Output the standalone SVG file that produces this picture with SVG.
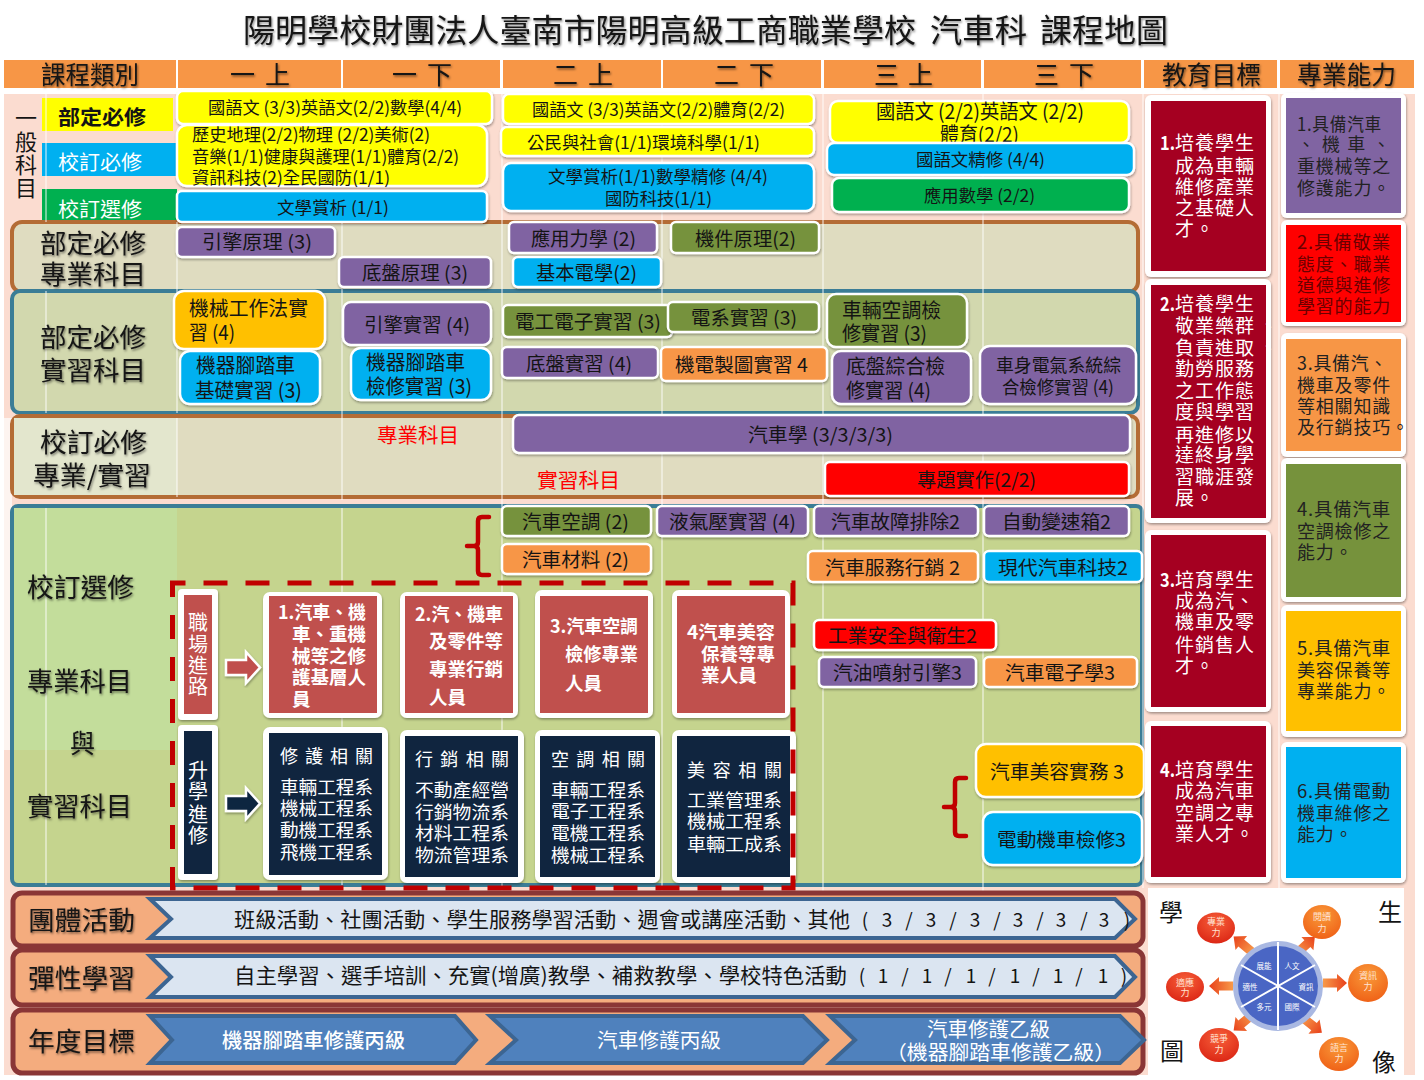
<svg xmlns="http://www.w3.org/2000/svg" width="1424" height="1080" viewBox="0 0 1424 1080">
<style>
svg{font-family:"Noto Sans CJK TC","Liberation Sans",sans-serif}
text{dominant-baseline:central;fill:#141414;transform:translateY(-2px)}
.m{text-anchor:middle}
.b{stroke:#fff;stroke-width:2.5;filter:url(#ds)}
.f{fill:#fff;filter:url(#ds)}
.sh{filter:url(#ts)}
.p{fill:#8064a2}.y{fill:#ff0}.u{fill:#00b0f0}.g{fill:#00b050}.o{fill:#76923c}.a{fill:#f79646}.k{fill:#ffc000}.r{fill:#f00}
.s20{font-size:20px}.s18{font-size:18px}.s19{font-size:19px}.s17{font-size:17px}.s26{font-size:26px}.s25{font-size:25px}
.w{fill:#fff}.wb{fill:#fff;font-weight:700;font-size:18.5px}
.ob{fill:#a50021}.oq{fill:#fff;font-size:19px;letter-spacing:1px}
.on{fill:#fff;font-size:19px;font-weight:700}
.sk{font-size:18px;fill:#222;letter-spacing:.8px}
.dr{fill:#6a0000}
.pb{fill:#f4ac7e;stroke:#8a3636;stroke-width:5}
.ch{fill:#dbe5f1;stroke:#3c6592;stroke-width:4;stroke-linejoin:miter}
.cd{fill:#4f81bd;stroke:#3c6592;stroke-width:4;stroke-linejoin:miter}
.br{fill:none;stroke:#c00000;stroke-width:4.5;stroke-linecap:round;stroke-linejoin:round}
.cl{fill:#ffe3d4;font-size:9px;transform:none}
.wl{fill:#fff;font-size:7.5px;transform:none}
.vl{stroke:#fff;stroke-opacity:.45;stroke-width:2}
.rd{fill:#f00;font-size:20.5px}
.ln{font-size:21px}
</style>
<defs>
<filter id="ds" x="-10%" y="-15%" width="120%" height="130%"><feDropShadow dx="0.6" dy="1.6" stdDeviation="1.3" flood-color="#000" flood-opacity=".35"/></filter>
<filter id="ts" x="-5%" y="-20%" width="110%" height="140%"><feDropShadow dx="1" dy="1.5" stdDeviation="1.1" flood-color="#000" flood-opacity=".5"/></filter>
<radialGradient id="cr" cx=".5" cy=".3" r=".8"><stop offset="0" stop-color="#f7603a"/><stop offset="1" stop-color="#d81f10"/></radialGradient>
<radialGradient id="co" cx=".5" cy=".3" r=".8"><stop offset="0" stop-color="#f99a3a"/><stop offset="1" stop-color="#ee5a12"/></radialGradient>
<linearGradient id="ar" x1="0" x2="1" y1="0" y2="0"><stop offset="0" stop-color="#f79a4a"/><stop offset="1" stop-color="#e8401a"/></linearGradient>
<path id="sa" d="M0-4.500H14V-9L24 0 14 9V4.500H0Z" fill="url(#ar)"/>
</defs>
<rect width="1424" height="1080" fill="#fff"/>
<rect x="4" y="94" width="1411" height="981" fill="#fbdcd0"/>
<rect x="4" y="418" width="8" height="332" fill="#fdf4f0"/>

<g id="title" class="sh" font-size="32"><text x="243" y="30" textLength="673" lengthAdjust="spacingAndGlyphs">陽明學校財團法人臺南市陽明高級工商職業學校</text><text x="930" y="30" textLength="97" lengthAdjust="spacingAndGlyphs">汽車科</text><text x="1040" y="30" textLength="128" lengthAdjust="spacingAndGlyphs">課程地圖</text></g>

<g id="header">
<rect class="a" x="4" y="60" width="172" height="28"/><rect class="a" x="178" y="60" width="163" height="28"/><rect class="a" x="343" y="60" width="157" height="28"/><rect class="a" x="503" y="60" width="158" height="28"/><rect class="a" x="663" y="60" width="158" height="28"/><rect class="a" x="824" y="60" width="157" height="28"/><rect class="a" x="984" y="60" width="157" height="28"/><rect class="a" x="1144" y="60" width="133" height="28"/><rect class="a" x="1280" y="60" width="134" height="28"/>
<g class="s25 sh"><text x="41" y="75" textLength="98" lengthAdjust="spacingAndGlyphs">課程類別</text><text x="230" y="75">一</text><text x="265" y="75">上</text><text x="392" y="75">一</text><text x="427" y="75">下</text><text x="553" y="75">二</text><text x="588" y="75">上</text><text x="714" y="75">二</text><text x="749" y="75">下</text><text x="874" y="75">三</text><text x="908" y="75">上</text><text x="1034" y="75">三</text><text x="1069" y="75">下</text><text x="1162" y="75" textLength="99" lengthAdjust="spacingAndGlyphs">教育目標</text><text x="1297" y="75" textLength="99" lengthAdjust="spacingAndGlyphs">專業能力</text></g>
</g>

<g id="general-legend">
<g font-size="22"><text class="m" x="26" y="118">一</text><text class="m" x="26" y="142">般</text><text class="m" x="26" y="165">科</text><text class="m" x="26" y="188">目</text></g>
<rect class="y" x="42" y="98" width="131" height="33"/><text x="58" y="118" class="s20" font-weight="700" textLength="88" lengthAdjust="spacingAndGlyphs">部定必修</text>
<rect class="u" x="42" y="143" width="135" height="33"/><text x="58" y="163" class="s20 w" textLength="84" lengthAdjust="spacingAndGlyphs">校訂必修</text>
<rect class="g" x="42" y="189" width="135" height="34"/><text x="58" y="210" class="s20 w" textLength="84" lengthAdjust="spacingAndGlyphs">校訂選修</text>
</g>

<g id="panels">
<rect x="12" y="222" width="1126" height="70" rx="10" fill="#dfdcc0" stroke="#b46c35" stroke-width="4"/>
<rect x="12" y="291" width="1126" height="122" rx="8" fill="#d2d8ae" stroke="#3b7d96" stroke-width="4"/>
<rect x="12" y="416" width="1126" height="81" rx="8" fill="#e0dcc0" stroke="#b46c35" stroke-width="4"/>
<rect x="14" y="418" width="163" height="77" fill="#e3e6cd"/>
<rect x="12" y="506" width="1130" height="379" rx="6" fill="#c5d48e" stroke="#3b7d96" stroke-width="4"/>
<rect x="14" y="508" width="163" height="242" fill="#c3dd9b"/>
<g class="vl"><path d="M46 94V222M46 291V413M46 508V885M177 222V291M177 291V413M177 418V497M342 222V500M342 508V885M502 94V900M662 94V900M823 94V900M983 94V900M1143 94V888M1279 94V888"/></g>
</g>

<g id="year-1">
<rect class="y b" x="177" y="91" width="315" height="33" rx="6"/><text class="s17" x="208" y="108" textLength="254" lengthAdjust="spacingAndGlyphs">國語文 (3/3)英語文(2/2)數學(4/4)</text>
<rect class="y b" x="177" y="125" width="310" height="61" rx="10"/>
<g class="s17"><text x="192" y="135" textLength="238" lengthAdjust="spacingAndGlyphs">歷史地理(2/2)物理 (2/2)美術(2)</text><text x="192" y="157" textLength="267" lengthAdjust="spacingAndGlyphs">音樂(1/1)健康與護理(1/1)體育(2/2)</text><text x="192" y="178" textLength="198" lengthAdjust="spacingAndGlyphs">資訊科技(2)全民國防(1/1)</text></g>
<rect class="u b" x="177" y="191" width="310" height="31" rx="5"/><text class="s17" x="277" y="208" textLength="112" lengthAdjust="spacingAndGlyphs">文學賞析 (1/1)</text>
</g>
<g id="year-2">
<rect class="y b" x="503" y="94" width="311" height="30" rx="6"/><text class="s17" x="532" y="110" textLength="253" lengthAdjust="spacingAndGlyphs">國語文 (3/3)英語文(2/2)體育(2/2)</text>
<rect class="y b" x="501" y="127" width="313" height="29" rx="6"/><text class="s17" x="527" y="143" textLength="233" lengthAdjust="spacingAndGlyphs">公民與社會(1/1)環境科學(1/1)</text>
<rect class="u b" x="503" y="163" width="311" height="48" rx="8"/><text class="s17" x="548" y="177" textLength="220" lengthAdjust="spacingAndGlyphs">文學賞析(1/1)數學精修 (4/4)</text><text class="s17" x="605" y="199" textLength="107" lengthAdjust="spacingAndGlyphs">國防科技(1/1)</text>
</g>
<g id="year-3">
<rect class="y b" x="830" y="101" width="299" height="42" rx="8"/><text class="s20" x="876" y="112" textLength="208" lengthAdjust="spacingAndGlyphs">國語文 (2/2)英語文 (2/2)</text><text class="s20" x="940" y="135" textLength="79" lengthAdjust="spacingAndGlyphs">體育(2/2)</text>
<rect class="u b" x="827" y="143" width="307" height="32" rx="7"/><text class="s17" x="916" y="160" textLength="129" lengthAdjust="spacingAndGlyphs">國語文精修 (4/4)</text>
<rect class="g b" x="832" y="178" width="297" height="34" rx="7"/><text class="s17" x="924" y="196" textLength="111" lengthAdjust="spacingAndGlyphs">應用數學 (2/2)</text>
</g>

<g id="row-dept-theory">
<g class="s26 sh"><text x="40" y="243" textLength="106" lengthAdjust="spacingAndGlyphs">部定必修</text><text x="40" y="274" textLength="106" lengthAdjust="spacingAndGlyphs">專業科目</text></g>
<rect class="p b" x="177" y="227" width="158" height="30" rx="5"/><text class="s19" x="202" y="242" textLength="110" lengthAdjust="spacingAndGlyphs">引擎原理 (3)</text>
<rect class="p b" x="339" y="257" width="152" height="30" rx="5"/><text class="s19" x="362" y="273" textLength="106" lengthAdjust="spacingAndGlyphs">底盤原理 (3)</text>
<rect class="p b" x="509" y="222" width="148" height="31" rx="5"/><text class="s19" x="531" y="239" textLength="105" lengthAdjust="spacingAndGlyphs">應用力學 (2)</text>
<rect class="u b" x="513" y="257" width="148" height="30" rx="5"/><text class="s19" x="536" y="273" textLength="101" lengthAdjust="spacingAndGlyphs">基本電學(2)</text>
<rect class="o b" x="671" y="222" width="148" height="31" rx="5"/><text class="s19" x="695" y="239" textLength="101" lengthAdjust="spacingAndGlyphs">機件原理(2)</text>
</g>

<g id="row-dept-practice">
<g class="s26 sh"><text x="40" y="337" textLength="106" lengthAdjust="spacingAndGlyphs">部定必修</text><text x="40" y="370" textLength="106" lengthAdjust="spacingAndGlyphs">實習科目</text></g>
<rect class="k b" x="174" y="291" width="151" height="58" rx="10"/><text class="s20" x="189" y="309" textLength="119" lengthAdjust="spacingAndGlyphs">機械工作法實</text><text class="s20" x="189" y="333" textLength="46" lengthAdjust="spacingAndGlyphs">習 (4)</text>
<rect class="u b" x="180" y="351" width="140" height="53" rx="10"/><text class="s20" x="196" y="366" textLength="99" lengthAdjust="spacingAndGlyphs">機器腳踏車</text><text class="s20" x="195" y="391" textLength="107" lengthAdjust="spacingAndGlyphs">基礎實習 (3)</text>
<rect class="p b" x="343" y="302" width="148" height="43" rx="8"/><text class="s19" x="364" y="325" textLength="106" lengthAdjust="spacingAndGlyphs">引擎實習 (4)</text>
<rect class="u b" x="351" y="348" width="140" height="52" rx="10"/><text class="s20" x="366" y="363" textLength="99" lengthAdjust="spacingAndGlyphs">機器腳踏車</text><text class="s20" x="366" y="387" textLength="106" lengthAdjust="spacingAndGlyphs">檢修實習 (3)</text>
<rect class="o b" x="503" y="305" width="169" height="32" rx="5"/><text class="s19" x="515" y="322" textLength="146" lengthAdjust="spacingAndGlyphs">電工電子實習 (3)</text>
<rect class="o b" x="668" y="302" width="151" height="30" rx="5"/><text class="s19" x="691" y="318" textLength="106" lengthAdjust="spacingAndGlyphs">電系實習 (3)</text>
<rect class="o b" x="827" y="294" width="140" height="53" rx="9"/><text class="s20" x="842" y="311" textLength="99" lengthAdjust="spacingAndGlyphs">車輛空調檢</text><text class="s20" x="842" y="334" textLength="85" lengthAdjust="spacingAndGlyphs">修實習 (3)</text>
<rect class="p b" x="502" y="347" width="156" height="31" rx="5"/><text class="s19" x="526" y="364" textLength="106" lengthAdjust="spacingAndGlyphs">底盤實習 (4)</text>
<rect class="a b" x="661" y="347" width="166" height="34" rx="5"/><text class="s19" x="675" y="365" textLength="133" lengthAdjust="spacingAndGlyphs">機電製圖實習 4</text>
<rect class="p b" x="832" y="351" width="139" height="53" rx="9"/><text class="s20" x="846" y="367" textLength="99" lengthAdjust="spacingAndGlyphs">底盤綜合檢</text><text class="s20" x="846" y="391" textLength="85" lengthAdjust="spacingAndGlyphs">修實習 (4)</text>
<rect class="p b" x="980" y="346" width="156" height="58" rx="10"/><text class="s18" x="996" y="366" textLength="125" lengthAdjust="spacingAndGlyphs">車身電氣系統綜</text><text class="s18" x="1002" y="388" textLength="112" lengthAdjust="spacingAndGlyphs">合檢修實習 (4)</text>
</g>

<g id="row-school-required">
<g class="s26 sh"><text x="40" y="442" textLength="107" lengthAdjust="spacingAndGlyphs">校訂必修</text><text x="33" y="475" textLength="118" lengthAdjust="spacingAndGlyphs">專業/實習</text></g>
<text class="rd" x="377" y="436" textLength="82" lengthAdjust="spacingAndGlyphs">專業科目</text>
<text class="rd" x="537" y="481" textLength="83" lengthAdjust="spacingAndGlyphs">實習科目</text>
<rect class="p b" x="513" y="415" width="617" height="38" rx="6"/><text class="s19" x="748" y="435" textLength="145" lengthAdjust="spacingAndGlyphs">汽車學 (3/3/3/3)</text>
<rect class="r b" x="825" y="462" width="304" height="34" rx="5"/><text class="s19" x="917" y="480" textLength="119" lengthAdjust="spacingAndGlyphs">專題實作(2/2)</text>
</g>

<g id="row-school-elective">
<g class="s26 sh"><text x="27" y="587" textLength="107" lengthAdjust="spacingAndGlyphs">校訂選修</text><text x="27" y="681" textLength="105" lengthAdjust="spacingAndGlyphs">專業科目</text><text x="70" y="743" textLength="25" lengthAdjust="spacingAndGlyphs">與</text><text x="27" y="806" textLength="105" lengthAdjust="spacingAndGlyphs">實習科目</text></g>
<rect class="o b" x="502" y="506" width="149" height="30" rx="5"/><text class="s19" x="522" y="522" textLength="107" lengthAdjust="spacingAndGlyphs">汽車空調 (2)</text>
<rect class="p b" x="657" y="506" width="151" height="30" rx="5"/><text class="s19" x="669" y="522" textLength="127" lengthAdjust="spacingAndGlyphs">液氣壓實習 (4)</text>
<rect class="p b" x="814" y="506" width="164" height="30" rx="5"/><text class="s19" x="831" y="522" textLength="129" lengthAdjust="spacingAndGlyphs">汽車故障排除2</text>
<rect class="p b" x="984" y="506" width="145" height="30" rx="5"/><text class="s19" x="1002" y="522" textLength="109" lengthAdjust="spacingAndGlyphs">自動變速箱2</text>
<rect class="a b" x="502" y="544" width="149" height="30" rx="5"/><text class="s19" x="522" y="560" textLength="107" lengthAdjust="spacingAndGlyphs">汽車材料 (2)</text>
<rect class="a b" x="808" y="551" width="170" height="31" rx="5"/><text class="s19" x="825" y="568" textLength="135" lengthAdjust="spacingAndGlyphs">汽車服務行銷 2</text>
<rect class="u b" x="984" y="551" width="158" height="31" rx="5"/><text class="s19" x="998" y="568" textLength="130" lengthAdjust="spacingAndGlyphs">現代汽車科技2</text>
<rect class="r b" x="814" y="620" width="182" height="30" rx="5"/><text class="s19" x="828" y="636" textLength="149" lengthAdjust="spacingAndGlyphs">工業安全與衛生2</text>
<rect class="p b" x="819" y="657" width="157" height="30" rx="5"/><text class="s19" x="833" y="673" textLength="129" lengthAdjust="spacingAndGlyphs">汽油噴射引擎3</text>
<rect class="a b" x="984" y="657" width="153" height="30" rx="5"/><text class="s19" x="1005" y="673" textLength="110" lengthAdjust="spacingAndGlyphs">汽車電子學3</text>
<rect class="k b" x="976" y="744" width="168" height="53" rx="10"/><text class="s19" x="990" y="772" textLength="134" lengthAdjust="spacingAndGlyphs">汽車美容實務 3</text>
<rect class="u b" x="983" y="812" width="159" height="53" rx="10"/><text class="s19" x="997" y="840" textLength="129" lengthAdjust="spacingAndGlyphs">電動機車檢修3</text>
</g>

<g id="path-career">
<rect class="f" x="178" y="589" width="40" height="131" rx="4"/><rect x="184" y="595" width="28" height="119" fill="#c0504d"/>
<g class="s20"><text class="m w" x="198" y="623">職</text><text class="m w" x="198" y="645">場</text><text class="m w" x="198" y="666">進</text><text class="m w" x="198" y="687">路</text></g>
<rect class="f" x="263" y="592" width="119" height="126" rx="7"/><rect x="269" y="596" width="108" height="117" fill="#c0504d"/>
<text class="wb" x="278" y="613" textLength="88" lengthAdjust="spacingAndGlyphs">1.汽車、機</text><text class="wb" x="292" y="635" textLength="74" lengthAdjust="spacingAndGlyphs">車、重機</text><text class="wb" x="292" y="657" textLength="74" lengthAdjust="spacingAndGlyphs">械等之修</text><text class="wb" x="292" y="678" textLength="74" lengthAdjust="spacingAndGlyphs">護基層人</text><text class="wb" x="292" y="700">員</text>
<rect class="f" x="400" y="592" width="118" height="126" rx="7"/><rect x="405" y="596" width="108" height="117" fill="#c0504d"/>
<text class="wb" x="415" y="615" textLength="88" lengthAdjust="spacingAndGlyphs">2.汽、機車</text><text class="wb" x="429" y="642" textLength="74" lengthAdjust="spacingAndGlyphs">及零件等</text><text class="wb" x="429" y="670" textLength="74" lengthAdjust="spacingAndGlyphs">專業行銷</text><text class="wb" x="429" y="698" textLength="37" lengthAdjust="spacingAndGlyphs">人員</text>
<rect class="f" x="535" y="590" width="118" height="128" rx="7"/><rect x="540" y="596" width="108" height="117" fill="#c0504d"/>
<text class="wb" x="550" y="627" textLength="88" lengthAdjust="spacingAndGlyphs">3.汽車空調</text><text class="wb" x="565" y="655" textLength="73" lengthAdjust="spacingAndGlyphs">檢修專業</text><text class="wb" x="565" y="684" textLength="37" lengthAdjust="spacingAndGlyphs">人員</text>
<rect class="f" x="672" y="590" width="118" height="128" rx="7"/><rect x="677" y="596" width="108" height="117" fill="#c0504d"/>
<text class="wb" x="687" y="633" textLength="88" lengthAdjust="spacingAndGlyphs">4汽車美容</text><text class="wb" x="701" y="655" textLength="74" lengthAdjust="spacingAndGlyphs">保養等專</text><text class="wb" x="701" y="676" textLength="56" lengthAdjust="spacingAndGlyphs">業人員</text>
</g>

<g id="path-study">
<rect class="f" x="178" y="725" width="40" height="155" rx="4"/><rect x="184" y="731" width="28" height="143" fill="#10253f"/>
<text class="m w s20" x="198" y="771">升</text><text class="m w s20" x="198" y="792">學</text><text class="m w s20" x="198" y="815">進</text><text class="m w s20" x="198" y="836">修</text>
<rect class="f" x="263" y="727" width="125" height="153" rx="7"/><rect x="269" y="733" width="113" height="142" fill="#10253f"/>
<g class="s18"><text class="w" x="280" y="757" textLength="93" lengthAdjust="spacing">修護相關</text><text class="w" x="280" y="788" textLength="93" lengthAdjust="spacingAndGlyphs">車輛工程系</text><text class="w" x="280" y="809" textLength="93" lengthAdjust="spacingAndGlyphs">機械工程系</text><text class="w" x="280" y="831" textLength="93" lengthAdjust="spacingAndGlyphs">動機工程系</text><text class="w" x="280" y="853" textLength="93" lengthAdjust="spacingAndGlyphs">飛機工程系</text></g>
<rect class="f" x="400" y="730" width="124" height="153" rx="7"/><rect x="405" y="736" width="113" height="141" fill="#10253f"/>
<g class="s18"><text class="w" x="415" y="760" textLength="94" lengthAdjust="spacing">行銷相關</text><text class="w" x="415" y="791" textLength="94" lengthAdjust="spacingAndGlyphs">不動產經營</text><text class="w" x="415" y="813" textLength="94" lengthAdjust="spacingAndGlyphs">行銷物流系</text><text class="w" x="415" y="834" textLength="94" lengthAdjust="spacingAndGlyphs">材料工程系</text><text class="w" x="415" y="856" textLength="94" lengthAdjust="spacingAndGlyphs">物流管理系</text></g>
<rect class="f" x="535" y="730" width="125" height="153" rx="7"/><rect x="540" y="736" width="115" height="141" fill="#10253f"/>
<g class="s18"><text class="w" x="551" y="760" textLength="94" lengthAdjust="spacing">空調相關</text><text class="w" x="551" y="791" textLength="94" lengthAdjust="spacingAndGlyphs">車輛工程系</text><text class="w" x="551" y="812" textLength="94" lengthAdjust="spacingAndGlyphs">電子工程系</text><text class="w" x="551" y="834" textLength="94" lengthAdjust="spacingAndGlyphs">電機工程系</text><text class="w" x="551" y="856" textLength="94" lengthAdjust="spacingAndGlyphs">機械工程系</text></g>
<rect class="f" x="672" y="730" width="124" height="153" rx="7"/><rect x="677" y="736" width="113" height="141" fill="#10253f"/>
<g class="s18"><text class="w" x="687" y="771" textLength="95" lengthAdjust="spacing">美容相關</text><text class="w" x="687" y="801" textLength="95" lengthAdjust="spacingAndGlyphs">工業管理系</text><text class="w" x="687" y="822" textLength="95" lengthAdjust="spacingAndGlyphs">機械工程系</text><text class="w" x="687" y="845" textLength="95" lengthAdjust="spacingAndGlyphs">車輛工成系</text></g>
</g>

<g id="connectors">
<path d="M226 660H246V652L260 667.500 246 683V675H226Z" fill="#c0504d" stroke="#fff" stroke-width="2.500" filter="url(#ds)"/>
<path d="M226 796H246V788L260 803.500 246 819V811H226Z" fill="#10253f" stroke="#fff" stroke-width="2.500" filter="url(#ds)"/>
<path class="br" d="M489 517H482Q478 517 478 521V542Q478 546 474 546H467M474 546Q478 546 478 550V571Q478 575 482 575H489"/>
<path class="br" d="M966 778H959Q955 778 955 782V803Q955 807 951 807H944M951 807Q955 807 955 811V832Q955 836 959 836H966"/>
<rect x="172.500" y="583" width="620.500" height="305" fill="none" stroke="#c00000" stroke-width="5" stroke-dasharray="24 18" stroke-dashoffset="11"/>
</g>

<g id="objectives">
<rect class="f" x="1145" y="95" width="126" height="182" rx="6"/><rect class="ob" x="1151" y="101" width="115" height="170"/>
<text class="on" x="1160" y="143" textLength="15" lengthAdjust="spacingAndGlyphs">1.</text><text class="oq" x="1175" y="143">培養學生</text><text class="oq" x="1175" y="166">成為車輛</text><text class="oq" x="1175" y="187">維修產業</text><text class="oq" x="1175" y="208">之基礎人</text><text class="oq" x="1175" y="229">才。</text>
<rect class="f" x="1145" y="279" width="126" height="244" rx="6"/><rect class="ob" x="1151" y="285" width="115" height="233"/>
<text class="on" x="1160" y="304" textLength="15" lengthAdjust="spacingAndGlyphs">2.</text><text class="oq" x="1175" y="304">培養學生</text><text class="oq" x="1175" y="326">敬業樂群<tspan dx="4">、</tspan></text><text class="oq" x="1175" y="348">負責進取<tspan dx="4">、</tspan></text><text class="oq" x="1175" y="369">勤勞服務</text><text class="oq" x="1175" y="391">之工作態</text><text class="oq" x="1175" y="412">度與學習</text><text class="oq" x="1175" y="435">再進修以</text><text class="oq" x="1175" y="455">達終身學</text><text class="oq" x="1175" y="477">習職涯發</text><text class="oq" x="1175" y="498">展。</text>
<rect class="f" x="1145" y="530" width="126" height="182" rx="6"/><rect class="ob" x="1151" y="535" width="115" height="172"/>
<text class="on" x="1160" y="580" textLength="15" lengthAdjust="spacingAndGlyphs">3.</text><text class="oq" x="1175" y="580">培育學生</text><text class="oq" x="1175" y="601">成為汽、</text><text class="oq" x="1175" y="622">機車及零</text><text class="oq" x="1175" y="645">件銷售人</text><text class="oq" x="1175" y="666">才。</text>
<rect class="f" x="1145" y="721" width="126" height="162" rx="6"/><rect class="ob" x="1151" y="726" width="115" height="151"/>
<text class="on" x="1160" y="770" textLength="15" lengthAdjust="spacingAndGlyphs">4.</text><text class="oq" x="1175" y="770">培育學生</text><text class="oq" x="1175" y="791">成為汽車</text><text class="oq" x="1175" y="813">空調之專</text><text class="oq" x="1175" y="834">業人才。</text>
</g>

<g id="abilities">
<rect class="f" x="1281" y="93" width="125" height="125" rx="6"/><rect class="p" x="1286" y="98" width="115" height="115"/>
<text class="sk" x="1297" y="125" textLength="85" lengthAdjust="spacingAndGlyphs">1.具備汽車</text><text class="sk" x="1297" y="145" textLength="94" lengthAdjust="spacing">、 機 車 、</text><text class="sk" x="1297" y="167">重機械等之</text><text class="sk" x="1297" y="189">修護能力。</text>
<rect class="f" x="1281" y="220" width="125" height="106" rx="6"/><rect class="r" x="1286" y="225" width="115" height="97"/>
<text class="sk dr" x="1297" y="243" textLength="94" lengthAdjust="spacingAndGlyphs">2.具備敬業</text><text class="sk dr" x="1297" y="265">態度、職業</text><text class="sk dr" x="1297" y="286">道德與進修</text><text class="sk dr" x="1297" y="307">學習的能力</text>
<rect class="f" x="1281" y="333" width="125" height="124" rx="6"/><rect class="a" x="1286" y="339" width="115" height="112"/>
<text class="sk" x="1297" y="364" textLength="91" lengthAdjust="spacingAndGlyphs">3.具備汽、</text><text class="sk" x="1297" y="386">機車及零件</text><text class="sk" x="1297" y="407">等相關知識</text><text class="sk" x="1297" y="428">及行銷技巧。</text>
<rect class="f" x="1281" y="458" width="125" height="144" rx="6"/><rect class="o" x="1286" y="464" width="115" height="133"/>
<text class="sk" x="1297" y="510" textLength="94" lengthAdjust="spacingAndGlyphs">4.具備汽車</text><text class="sk" x="1297" y="532">空調檢修之</text><text class="sk" x="1297" y="553">能力。</text>
<rect class="f" x="1281" y="605" width="125" height="132" rx="6"/><rect class="k" x="1286" y="611" width="115" height="120"/>
<text class="sk" x="1297" y="649" textLength="94" lengthAdjust="spacingAndGlyphs">5.具備汽車</text><text class="sk" x="1297" y="671">美容保養等</text><text class="sk" x="1297" y="692">專業能力。</text>
<rect class="f" x="1281" y="742" width="125" height="141" rx="6"/><rect class="u" x="1286" y="747" width="115" height="131"/>
<text class="sk" x="1297" y="792" textLength="94" lengthAdjust="spacingAndGlyphs">6.具備電動</text><text class="sk" x="1297" y="814">機車維修之</text><text class="sk" x="1297" y="835">能力。</text>
</g>

<g id="activities">
<rect class="pb" x="13" y="893" width="1130" height="53" rx="9"/>
<polygon class="ch" points="150,899 1115,899 1135,919 1115,938 150,938 171,919"/>
<text class="s26 sh" x="28" y="920" textLength="107" lengthAdjust="spacingAndGlyphs">團體活動</text>
<text class="ln" x="234" y="920" textLength="616" lengthAdjust="spacingAndGlyphs">班級活動、社團活動、學生服務學習活動、週會或講座活動、其他</text>
<text class="m" font-size="19" y="920" x="865 876 887 898 909 920 931 942 953 964 975 986 997 1008 1018 1029 1040 1050 1061 1072 1084 1094 1104 1115 1127">( 3 / 3 / 3 / 3 / 3 / 3 )</text>
</g>
<g id="flexible">
<rect class="pb" x="13" y="950" width="1130" height="55" rx="9"/>
<polygon class="ch" points="150,956 1115,956 1135,977 1115,997 150,997 171,977"/>
<text class="s26 sh" x="28" y="978" textLength="107" lengthAdjust="spacingAndGlyphs">彈性學習</text>
<text class="ln" x="234" y="976" textLength="613" lengthAdjust="spacingAndGlyphs">自主學習、選手培訓、充實(增廣)教學、補救教學、學校特色活動</text>
<text class="m" font-size="19" y="976" x="862 872 883 894 905 916 927 938 948 960 971 982 992 1004 1015 1026 1036 1047 1058 1068 1079 1091 1103 1114 1124">( 1 / 1 / 1 / 1 / 1 / 1 )</text>
</g>
<g id="annual">
<rect class="pb" x="13" y="1010" width="1130" height="63" rx="9"/>
<polygon class="cd" points="150,1016 455,1016 476,1040 455,1063 150,1063 172,1040"/>
<polygon class="cd" points="490,1016 803,1016 827,1040 803,1063 490,1063 516,1040"/>
<polygon class="cd" points="830,1016 1120,1016 1144,1040 1120,1063 830,1063 855,1040"/>
<text class="s26 sh" x="28" y="1041" textLength="107" lengthAdjust="spacingAndGlyphs">年度目標</text>
<text class="w s20" font-weight="500" x="222" y="1041" textLength="183" lengthAdjust="spacingAndGlyphs">機器腳踏車修護丙級</text>
<text class="w s20" x="597" y="1041" textLength="124" lengthAdjust="spacingAndGlyphs">汽車修護丙級</text>
<text class="w s20" x="927" y="1030" textLength="123" lengthAdjust="spacingAndGlyphs">汽車修護乙級</text>
<text class="w s20" x="886" y="1053" textLength="229" lengthAdjust="spacingAndGlyphs">（機器腳踏車修護乙級）</text>
</g>

<g id="student-portrait">
<rect x="1148" y="888" width="256" height="187" fill="#fff"/>
<text class="m" font-size="24" x="1171" y="912">學</text><text class="m" font-size="24" x="1390" y="912">生</text><text class="m" font-size="24" x="1172" y="1051">圖</text><text class="m" font-size="24" x="1384" y="1062">像</text>
<use href="#sa" transform="translate(1252 952) rotate(-140)"/>
<use href="#sa" transform="translate(1297 953) rotate(-42)"/>
<use href="#sa" transform="translate(1323 983)"/>
<use href="#sa" transform="translate(1303 1018) rotate(38)"/>
<use href="#sa" transform="translate(1252 1015) rotate(140)"/>
<use href="#sa" transform="translate(1233 986) rotate(180)"/>
<circle cx="1278" cy="986" r="45" fill="#a9b8e2"/>
<circle cx="1278" cy="986" r="40" fill="#4a66c4"/>
<path d="M1278 942V1030M1241 965L1315 1007M1315 965L1241 1007" stroke="#fff" stroke-width="2"/>
<g><text class="m wl" x="1264" y="965">展能</text><text class="m wl" x="1292" y="965">人文</text><text class="m wl" x="1250" y="986">適性</text><text class="m wl" x="1306" y="986">資訊</text><text class="m wl" x="1264" y="1006">多元</text><text class="m wl" x="1292" y="1006">國際</text></g>
<ellipse cx="1216" cy="928" rx="19" ry="15.500" fill="url(#cr)"/><text class="m cl" x="1216" y="921">專業</text><text class="m cl" x="1216" y="932">力</text>
<ellipse cx="1322" cy="922" rx="19" ry="17" fill="url(#co)"/><text class="m cl" x="1322" y="916">閱讀</text><text class="m cl" x="1322" y="928">力</text>
<ellipse cx="1368" cy="983" rx="20" ry="19" fill="url(#co)"/><text class="m cl" x="1368" y="975">資訊</text><text class="m cl" x="1368" y="986">力</text>
<ellipse cx="1339" cy="1054" rx="20" ry="17" fill="url(#co)"/><text class="m cl" x="1339" y="1047">語言</text><text class="m cl" x="1339" y="1058">力</text>
<ellipse cx="1219" cy="1045" rx="20" ry="17" fill="url(#cr)"/><text class="m cl" x="1219" y="1038">競爭</text><text class="m cl" x="1219" y="1049">力</text>
<ellipse cx="1185" cy="987" rx="19" ry="15" fill="url(#cr)"/><text class="m cl" x="1185" y="982">適應</text><text class="m cl" x="1185" y="992">力</text>
</g>
</svg>
